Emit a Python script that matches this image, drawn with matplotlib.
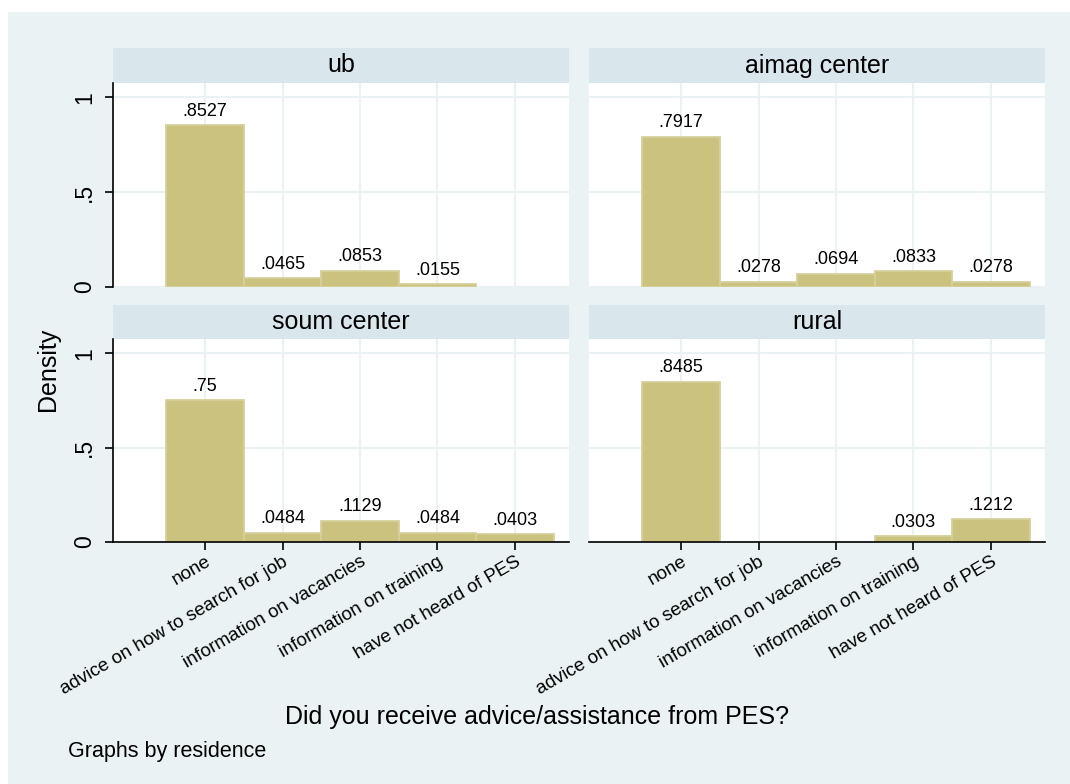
import matplotlib
matplotlib.use("Agg")
import matplotlib.pyplot as plt
from matplotlib.patches import Rectangle

plt.rcParams["font.family"] = ["Liberation Sans", "DejaVu Sans"]

# data
categories = [
    "none",
    "advice on how to search for job",
    "information on vacancies",
    "information on training",
    "have not heard of PES",
]
panels = ["ub", "aimag center", "soum center", "rural"]
ub = [0.8527, 0.0465, 0.0853, 0.0155, 0]
aimag_center = [0.7917, 0.0278, 0.0694, 0.0833, 0.0278]
soum_center = [0.75, 0.0484, 0.1129, 0.0484, 0.0403]
rural = [0.8485, 0, 0, 0.0303, 0.1212]
values = [ub, aimag_center, soum_center, rural]

W, H = 1070, 784
bg = "#EAF2F3"
strip_c = "#D9E6EB"
bar_c = "#CAC27E"
bar_edge = "#D6D09C"

fig = plt.figure(figsize=(W / 100, H / 100), dpi=100, facecolor="white")
fig.patches.append(Rectangle((8 / W, 0), 1, 1 - 12 / H, transform=fig.transFigure,
                             facecolor=bg, edgecolor="none", zorder=-10))


def box(x0, y0, x1, y1):
    # pixel box (top-left origin) -> figure fraction
    return [x0 / W, 1 - y1 / H, (x1 - x0) / W, (y1 - y0) / H]


cols = [(113, 569), (589, 1045)]
rows = [(48, 83, 287), (305, 339, 542)]
x = list(range(len(categories)))

for i, name in enumerate(panels):
    r, c = divmod(i, 2)
    x0, x1 = cols[c]
    s0, p0, p1 = rows[r]

    sax = fig.add_axes(box(x0, s0, x1, p0))
    sax.set_facecolor(strip_c)
    sax.set_xticks([])
    sax.set_yticks([])
    for sp in sax.spines.values():
        sp.set_visible(False)
    sax.text(0.5, 0.5, name, ha="center", va="center", fontsize=18,
             transform=sax.transAxes)

    ax = fig.add_axes(box(x0, p0, x1, p1))
    ax.set_facecolor("white")
    ax.set_axisbelow(True)
    # empty categories get no bar
    xs = [xi for xi, v in zip(x, values[i]) if v > 0]
    vs = [v for v in values[i] if v > 0]
    ax.bar(xs, vs, width=1, color=bar_c, edgecolor=bar_edge, linewidth=1.3)
    for xi, v in zip(xs, vs):
        ax.annotate(("%.4g" % v).lstrip("0"), (xi, v), xytext=(0, 4),
                    textcoords="offset points", ha="center", va="bottom",
                    fontsize=13)
    ax.set_xlim(-1.19, 4.70)
    ax.set_ylim(0, 1.075)
    ax.set_xticks(x)
    ax.set_yticks([0, 0.5, 1])
    ax.grid(True, color=bg, linewidth=1.5)
    for sp in ["top", "right"]:
        ax.spines[sp].set_visible(False)
    ax.spines["left"].set_visible(c == 0)
    ax.spines["bottom"].set_visible(r == 1)
    ax.spines["left"].set_linewidth(1.2)
    ax.spines["bottom"].set_linewidth(1.2)

    if c == 0:
        ax.set_yticklabels(["0", ".5", "1"], rotation=90, va="center", fontsize=16.5)
        ax.tick_params(axis="y", length=6, width=1.2, pad=6)
    else:
        ax.tick_params(axis="y", length=0, labelleft=False)

    if r == 1:
        ax.set_xticklabels(categories, rotation=30, ha="right", va="top",
                           rotation_mode="anchor", fontsize=13.5)
        ax.tick_params(axis="x", length=6, width=1.2, pad=2)
    else:
        ax.tick_params(axis="x", length=0, labelbottom=False)

fig.text(48 / W, 1 - 369 / H, "Density", rotation=90, ha="center", va="center",
         fontsize=18)
fig.text(537 / W, 1 - 717 / H, "Did you receive advice/assistance from PES?",
         ha="center", va="center", fontsize=18)
fig.text(68 / W, 1 - 757 / H, "Graphs by residence", ha="left", va="baseline",
         fontsize=15.5)

fig.savefig("out.png", dpi=100, facecolor=fig.get_facecolor())
